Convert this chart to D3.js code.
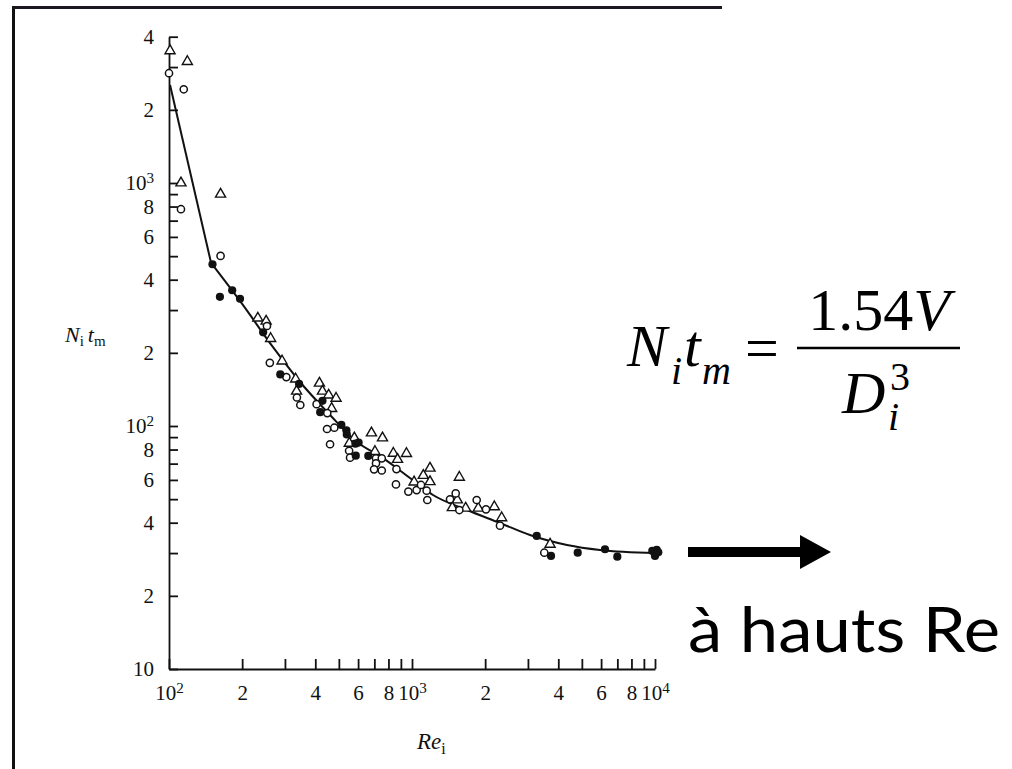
<!DOCTYPE html>
<html>
<head>
<meta charset="utf-8">
<script src="https://cdn.jsdelivr.net/npm/d3@7"></script>
<style>
  body { margin: 0; background: #fff; }
  svg { display: block; }
</style>
</head>
<body>
<svg width="1012" height="769"></svg>
<script>
// triangles (open)
var triRe = [101, 119, 112, 163, 232, 251, 262, 292, 332, 335, 416, 428, 454, 487, 467,
  579, 552, 681, 756, 704, 838, 949, 872, 1020, 1113, 1186, 1186, 1566, 1536, 1465,
  1663, 1874, 2182, 2339, 3700];
var triNt = [3500, 3160, 1000, 899, 278, 270, 229, 185, 156, 139, 150, 139, 134, 130, 118,
  89.3, 84.9, 93.6, 89.3, 78.5, 77.2, 77.0, 72.8, 58.8, 62.6, 67.0, 59.0, 61.5, 49.6, 46.1,
  45.9, 45.9, 46.5, 41.9, 32.6];

// circles (open)
var openRe = [100, 115, 112, 163, 253, 260, 304, 336, 347, 405, 448, 447, 479, 460, 551,
  556, 711, 751, 711, 698, 751, 863, 859, 966, 1045, 1089, 1149, 1156, 1513, 1434,
  1566, 1846, 2016, 2302, 3503];
var openNt = [2830, 2430, 780, 501, 258, 182, 159, 131, 122, 123, 113, 97.2, 98.4, 84.1, 79.1,
  74.1, 73.6, 73.6, 70.2, 66.3, 65.6, 66.5, 57.5, 53.7, 54.5, 57.2, 54.2, 49.6, 52.8, 49.9,
  45.1, 49.6, 45.4, 38.9, 30.1];

// circles (filled)
var fillRe = [151, 162, 182, 196, 244, 287, 343, 428, 419, 512, 537, 539, 585, 603, 587,
  661, 3261, 3733, 4808, 6226, 6997, 9748, 10000, 10162, 10318];
var fillNt = [463, 340, 362, 334, 243, 163, 149, 127, 114, 101, 96.0, 92.3, 84.6, 85.5, 75.5,
  75.3, 35.3, 29.2, 30.1, 31.1, 29.0, 30.6, 29.2, 30.9, 30.2];

// correlation curve (straight first leg, then smooth)
var fitRe = [101, 149, 200, 268, 340, 460, 594, 760, 981, 1220, 1684, 2302, 3058, 4344, 5938, 10000];
var fitNt = [2530, 469, 318, 211, 155, 111, 85.9, 73.8, 61.1, 52.0, 45.1, 39.9, 35.6, 32.4, 30.9, 30.0];

var xTicks = [100, 200, 300, 400, 500, 600, 700, 800, 900,
  1000, 2000, 3000, 4000, 5000, 6000, 7000, 8000, 9000, 10000];
var xLabels = ["10|2", "2", "", "4", "", "6", "", "8", "",
  "10|3", "2", "", "4", "", "6", "", "8", "", "10|4"];
var yTicks = [10, 20, 30, 40, 50, 60, 70, 80, 90,
  100, 200, 300, 400, 500, 600, 700, 800, 900,
  1000, 2000, 3000, 4000];
var yLabels = ["10", "2", "", "4", "", "6", "", "8", "",
  "10|2", "2", "", "4", "", "6", "", "8", "",
  "10|3", "2", "", "4"];

var svg = d3.select("svg");
var serif = "'Liberation Serif', 'Times New Roman', serif";

// scanned page frame
svg.append("line").attr("x1", 13.5).attr("x2", 13.5).attr("y1", 6).attr("y2", 769)
  .attr("stroke", "#111").attr("stroke-width", 3);
svg.append("line").attr("x1", 12).attr("x2", 722).attr("y1", 7.5).attr("y2", 7.5)
  .attr("stroke", "#1b1620").attr("stroke-width", 3);

var x = d3.scaleLog().domain([100, 10000]).range([169, 655]);
var y = d3.scaleLog().domain([10, 4000]).range([669, 669 - 243 * Math.log10(400)]);

function label(sel, labels, ticks) {
  sel.selectAll(".tick text").each(function(d) {
    var t = d3.select(this);
    var s = labels[ticks.indexOf(d)];
    t.text(null);
    if (!s) return;
    var p = s.split("|");
    t.append("tspan").text(p[0]);
    if (p[1]) t.append("tspan").attr("dy", "-0.45em").attr("font-size", "0.72em").text(p[1]);
  });
}

var gx = svg.append("g").attr("transform", "translate(0,669)")
  .call(d3.axisBottom(x).tickValues(xTicks).tickSizeInner(-10).tickSizeOuter(0).tickPadding(16));
label(gx, xLabels, xTicks);

var gy = svg.append("g").attr("transform", "translate(169,0)")
  .call(d3.axisLeft(y).tickValues(yTicks).tickSizeInner(-9).tickSizeOuter(0).tickPadding(15));
label(gy, yLabels, yTicks);

[gx, gy].forEach(function(g) {
  g.selectAll("path, line").attr("stroke", "#111").attr("stroke-width", 1.8);
  g.selectAll("text").attr("font-family", serif).attr("font-size", 21).attr("fill", "#111");
});

// axis titles
var yt = svg.append("text").attr("x", 65).attr("y", 342)
  .attr("font-family", serif).attr("font-size", 22).attr("fill", "#111");
yt.append("tspan").attr("font-style", "italic").text("N");
yt.append("tspan").attr("font-size", 15).attr("dy", 4).text("i");
yt.append("tspan").attr("font-style", "italic").attr("dy", -4).attr("dx", 4).text("t");
yt.append("tspan").attr("font-size", 15).attr("dy", 4).text("m");

var xt = svg.append("text").attr("x", 417).attr("y", 749)
  .attr("font-family", serif).attr("font-size", 23).attr("fill", "#111");
xt.append("tspan").attr("font-style", "italic").text("Re");
xt.append("tspan").attr("font-size", 16).attr("dy", 5).text("i");

// fitted line
var pts = fitRe.map(function(r, i) { return [r, fitNt[i]]; });
var lx = function(d) { return x(d[0]); }, ly = function(d) { return y(d[1]); };
svg.append("path").datum(pts.slice(0, 2))
  .attr("d", d3.line().x(lx).y(ly))
  .attr("fill", "none").attr("stroke", "#111").attr("stroke-width", 2);
svg.append("path").datum(pts.slice(1))
  .attr("d", d3.line().x(lx).y(ly).curve(d3.curveMonotoneX))
  .attr("fill", "none").attr("stroke", "#111").attr("stroke-width", 2);

// markers
var tri = triRe.map(function(r, i) { return [r, triNt[i]]; });
svg.selectAll("path.tri").data(tri).enter().append("path").attr("class", "tri")
  .attr("d", d3.symbol(d3.symbolTriangle, 44))
  .attr("transform", function(d) { return "translate(" + x(d[0]) + "," + y(d[1]) + ")"; })
  .attr("fill", "#fff").attr("stroke", "#111").attr("stroke-width", 1.4);

var op = openRe.map(function(r, i) { return [r, openNt[i]]; });
svg.selectAll("circle.open").data(op).enter().append("circle").attr("class", "open")
  .attr("cx", function(d) { return x(d[0]); })
  .attr("cy", function(d) { return y(d[1]); })
  .attr("r", 3.6).attr("fill", "#fff").attr("stroke", "#111").attr("stroke-width", 1.5);

var fl = fillRe.map(function(r, i) { return [r, fillNt[i]]; });
svg.selectAll("circle.fill").data(fl).enter().append("circle").attr("class", "fill")
  .attr("cx", function(d) { return x(d[0]); })
  .attr("cy", function(d) { return y(d[1]); })
  .attr("r", 4.1).attr("fill", "#111");

// formula
var f = svg.append("g").attr("font-family", serif).attr("fill", "#000");
f.append("text").attr("x", 627).attr("y", 366).attr("font-size", 60).attr("font-style", "italic").text("N");
f.append("text").attr("x", 671).attr("y", 384).attr("font-size", 40).attr("font-style", "italic").text("i");
f.append("text").attr("x", 684).attr("y", 366).attr("font-size", 60).attr("font-style", "italic").text("t");
f.append("text").attr("x", 702).attr("y", 384).attr("font-size", 40).attr("font-style", "italic").text("m");
f.append("text").attr("x", 745).attr("y", 368).attr("font-size", 60).text("=");
f.append("line").attr("x1", 797).attr("x2", 960).attr("y1", 348).attr("y2", 348)
  .attr("stroke", "#000").attr("stroke-width", 2.5);
var num = f.append("text").attr("x", 879).attr("y", 330).attr("font-size", 60).attr("text-anchor", "middle");
num.append("tspan").text("1.54");
num.append("tspan").attr("font-style", "italic").text("V");
f.append("text").attr("x", 842).attr("y", 413).attr("font-size", 60).attr("font-style", "italic").text("D");
f.append("text").attr("x", 888).attr("y", 430).attr("font-size", 40).attr("font-style", "italic").text("i");
f.append("text").attr("x", 890).attr("y", 390).attr("font-size", 40).text("3");

// arrow
svg.append("rect").attr("x", 688).attr("y", 547).attr("width", 114).attr("height", 10).attr("fill", "#000");
svg.append("path").attr("d", "M800,535 L831,552 L800,569 Z").attr("fill", "#000");

svg.append("text").attr("x", 688).attr("y", 652)
  .attr("font-family", "Lato, 'Open Sans', sans-serif").attr("font-size", 62)
  .attr("textLength", 312).attr("lengthAdjust", "spacingAndGlyphs")
  .attr("fill", "#000").text("à hauts Re");
</script>
</body>
</html>
